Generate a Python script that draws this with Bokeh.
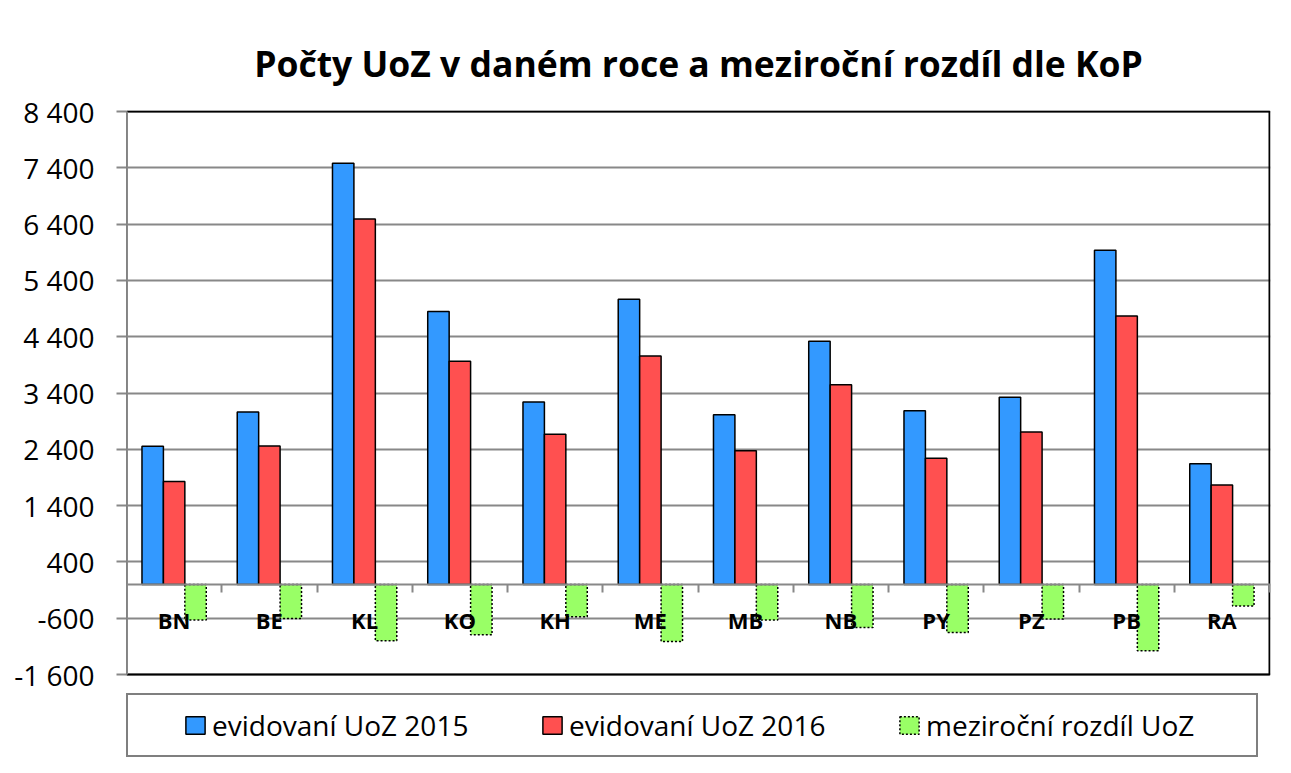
from bokeh.plotting import figure
from bokeh.models import (Range1d, FixedTicker, LinearAxis, Legend, LegendItem,
                          ColumnDataSource, Grid, CustomJSTickFormatter)
from bokeh.transform import dodge
from bokeh.embed import file_html
from bokeh.resources import INLINE

# ---- data -------------------------------------------------------------
categories = ["BN", "BE", "KL", "KO", "KH", "ME", "MB", "NB", "PY", "PZ", "PB", "RA"]
uoz_2015 = [2454, 3062, 7480, 4849, 3240, 5067, 3015, 4317, 3086, 3323, 5937, 2145]
uoz_2016 = [1826, 2459, 6492, 3962, 2667, 4056, 2376, 3547, 2241, 2708, 4766, 1767]
rozdil = [-634, -605, -1001, -894, -575, -1013, -634, -764, -853, -616, -1178, -385]
series_names = ["evidovaní UoZ 2015", "evidovaní UoZ 2016", "meziroční rozdíl UoZ"]
y_ticks = [-1600, -600, 400, 1400, 2400, 3400, 4400, 5400, 6400, 7400, 8400]
y_tick_labels = ["-1 600", "-600", "400", "1 400", "2 400", "3 400", "4 400",
                 "5 400", "6 400", "7 400", "8 400"]
title_text = "Počty UoZ v daném roce a meziroční rozdíl dle KoP"

FONT = "Open Sans"
GRID = "#888888"

n = len(categories)
centers = [i + 0.5 for i in range(n)]          # category slot centres
src = ColumnDataSource(dict(pos=centers, kategorie=categories, uoz_2015=uoz_2015,
                            uoz_2016=uoz_2016, rozdil=rozdil))

# ---- layout (pixels) ----------------------------------------------------
W_PX, H_PX = 1289, 772
AREA_LEFT, AREA_RIGHT = 126, 1269      # plot-area edges
AREA_TOP, AREA_BOTTOM = 111, 674       # rows of top / bottom tick
u_per_px = (y_ticks[-1] - y_ticks[0]) / (AREA_BOTTOM - AREA_TOP)
x_per_px = n / (AREA_RIGHT - AREA_LEFT)
# the frame reaches the canvas bottom so that the legend below the plot area is drawn
y_start = y_ticks[0] - (H_PX - AREA_BOTTOM) * u_per_px
y_end = y_ticks[-1] + 1 * u_per_px
x_end = n + 1 * x_per_px

p = figure(width=W_PX, height=H_PX,
           x_range=Range1d(0, x_end),
           y_range=Range1d(y_start, y_end),
           output_backend="svg", toolbar_location=None,
           x_axis_location=None, y_axis_location=None,
           min_border_left=AREA_LEFT, min_border_right=W_PX - AREA_RIGHT - 1,
           min_border_top=AREA_TOP - 1, min_border_bottom=0,
           title=title_text)
p.grid.visible = False
p.outline_line_color = None
p.background_fill_color = "white"
p.border_fill_color = "white"

p.title.align = "center"
p.title.text_font = FONT
p.title.text_font_size = "35.5px"
p.title.text_font_style = "bold"
p.title.text_color = "black"
p.title.standoff = 48

# y axis (line drawn separately so that it stops at the plot-area bottom)
y_axis = LinearAxis(ticker=FixedTicker(ticks=y_ticks),
                    major_label_overrides=dict(zip(y_ticks, y_tick_labels)),
                    axis_line_color=None,
                    major_tick_line_color=GRID, major_tick_line_width=2,
                    major_tick_in=0, major_tick_out=10,
                    minor_tick_line_color=None,
                    major_label_standoff=22,
                    major_label_text_font=FONT,
                    major_label_text_font_size="28px",
                    major_label_text_color="black")
p.add_layout(y_axis, "left")
p.add_layout(Grid(dimension=1, ticker=y_axis.ticker, grid_line_color=GRID,
                  grid_line_width=2))

# plot-area border and y axis line
p.quad(left=[0], right=[n], bottom=[y_ticks[0]], top=[y_ticks[-1]],
       fill_alpha=0, line_color="black", line_width=2)
p.segment(x0=[0], x1=[0], y0=[y_ticks[0]], y1=[y_ticks[-1]],
          line_color=GRID, line_width=3)

# category boundary ticks at zero
tick_axis = LinearAxis(ticker=FixedTicker(ticks=list(range(n + 1))),
                       formatter=CustomJSTickFormatter(code="return ''"),
                       fixed_location=0,
                       axis_line_color=GRID, axis_line_width=2,
                       major_tick_line_color=GRID, major_tick_line_width=2,
                       major_tick_in=0, major_tick_out=8,
                       minor_tick_line_color=None)
p.add_layout(tick_axis, "below")

# category labels at zero
cat_axis = LinearAxis(ticker=FixedTicker(ticks=centers),
                      major_label_overrides=dict(zip(centers, categories)),
                      fixed_location=0,
                      axis_line_color=None,
                      major_tick_line_color=None,
                      major_tick_in=0, major_tick_out=0,
                      minor_tick_line_color=None,
                      major_label_standoff=21,
                      major_label_text_font=FONT,
                      major_label_text_font_size="22px",
                      major_label_text_font_style="bold",
                      major_label_text_color="black")
p.add_layout(cat_axis, "below")

# bars
W = 0.225
r15 = p.vbar(x=dodge("pos", -W), top="uoz_2015", bottom=0,
             width=W, source=src, fill_color="#3399FF", line_color="black",
             line_width=1.5)
r16 = p.vbar(x=dodge("pos", 0), top="uoz_2016", bottom=0,
             width=W, source=src, fill_color="#FF5050", line_color="black",
             line_width=1.5)
rdf = p.vbar(x=dodge("pos", W), top="rozdil", bottom=0,
             width=W, source=src, fill_color="#99FF66", line_color="black",
             line_width=1.5, line_dash="2 2")

legend = Legend(items=[LegendItem(label=series_names[0], renderers=[r15]),
                       LegendItem(label=series_names[1], renderers=[r16]),
                       LegendItem(label=series_names[2], renderers=[rdf])],
                location=(0, H_PX - 757), orientation="horizontal",
                title=" ", title_location="left", title_standoff=35,
                title_text_font_size="8px",
                padding=11, margin=0, spacing=9,
                glyph_width=24, glyph_height=22, label_width=319,
                label_height=38, label_standoff=5,
                label_text_font=FONT, label_text_font_size="28px",
                label_text_color="black",
                border_line_color="black", border_line_width=2,
                background_fill_color="white", background_fill_alpha=1)
p.add_layout(legend, "center")

open("out.html", "w").write(file_html(p, INLINE))
